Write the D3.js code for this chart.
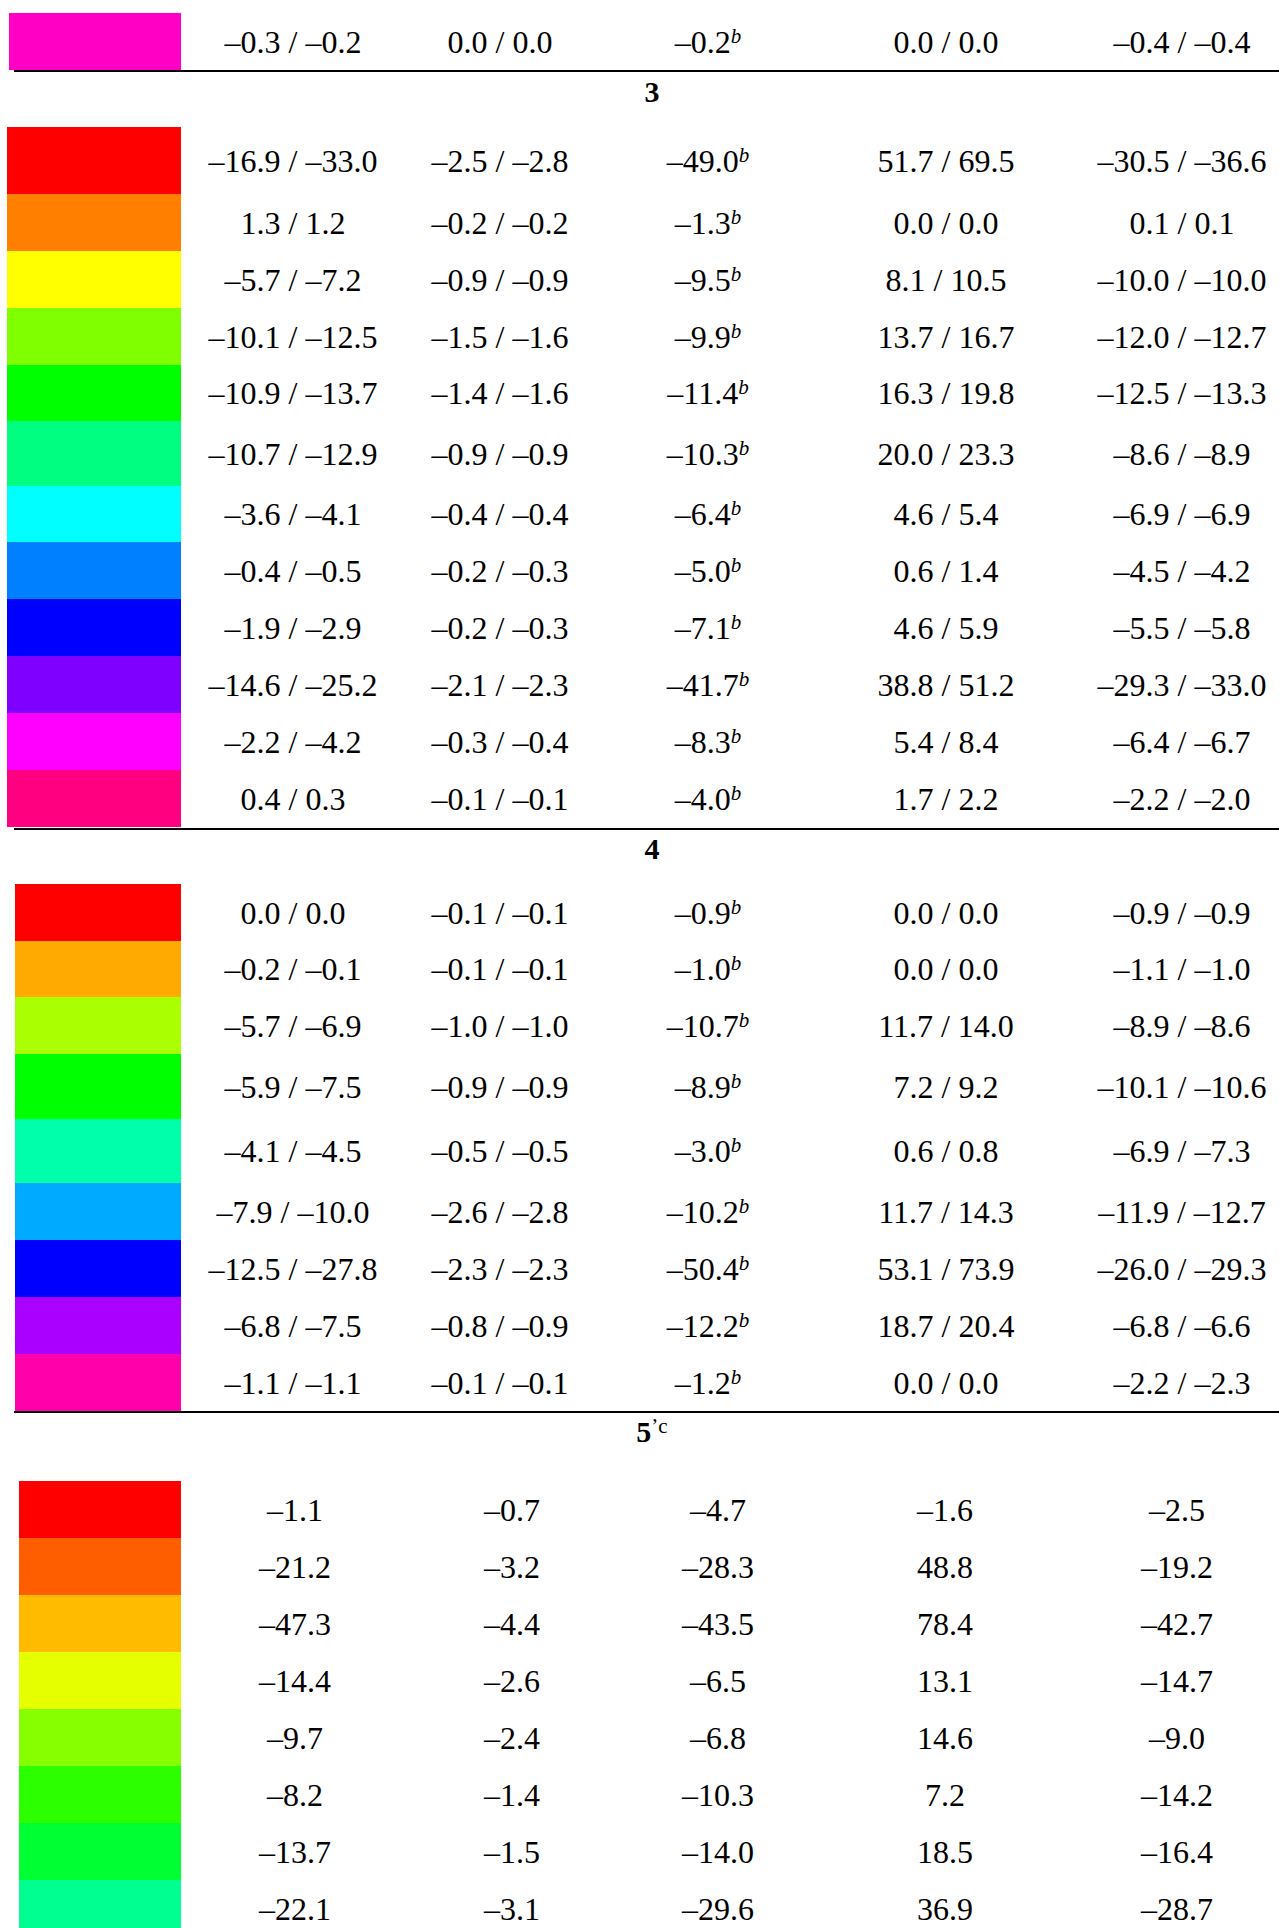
<!DOCTYPE html>
<html>
<head>
<meta charset="utf-8">
<script src="https://cdn.jsdelivr.net/npm/d3@7"></script>
<style>
  body { margin: 0; background: #fff; }
</style>
</head>
<body>
<div id="table"></div>
<script>
// row values: [colA pair, colB pair, colC single (marked b), colD pair, colE pair]
var topColors = ['#ff00c4'];
var topRows = [
    [[-0.3, -0.2], [0.0, 0.0], -0.2, [0.0, 0.0], [-0.4, -0.4]]
];

var sec3Colors = ['#ff0000', '#ff8000', '#ffff00', '#80ff00', '#00ff00', '#00ff80',
                  '#00ffff', '#0080ff', '#0000ff', '#8000ff', '#ff00ff', '#ff0080'];
var sec3Rows = [
    [[-16.9, -33.0], [-2.5, -2.8], -49.0, [51.7, 69.5], [-30.5, -36.6]],
    [[1.3, 1.2], [-0.2, -0.2], -1.3, [0.0, 0.0], [0.1, 0.1]],
    [[-5.7, -7.2], [-0.9, -0.9], -9.5, [8.1, 10.5], [-10.0, -10.0]],
    [[-10.1, -12.5], [-1.5, -1.6], -9.9, [13.7, 16.7], [-12.0, -12.7]],
    [[-10.9, -13.7], [-1.4, -1.6], -11.4, [16.3, 19.8], [-12.5, -13.3]],
    [[-10.7, -12.9], [-0.9, -0.9], -10.3, [20.0, 23.3], [-8.6, -8.9]],
    [[-3.6, -4.1], [-0.4, -0.4], -6.4, [4.6, 5.4], [-6.9, -6.9]],
    [[-0.4, -0.5], [-0.2, -0.3], -5.0, [0.6, 1.4], [-4.5, -4.2]],
    [[-1.9, -2.9], [-0.2, -0.3], -7.1, [4.6, 5.9], [-5.5, -5.8]],
    [[-14.6, -25.2], [-2.1, -2.3], -41.7, [38.8, 51.2], [-29.3, -33.0]],
    [[-2.2, -4.2], [-0.3, -0.4], -8.3, [5.4, 8.4], [-6.4, -6.7]],
    [[0.4, 0.3], [-0.1, -0.1], -4.0, [1.7, 2.2], [-2.2, -2.0]]
];

var sec4Colors = ['#ff0000', '#ffaa00', '#aaff00', '#00ff00', '#00ffaa',
                  '#00aaff', '#0000ff', '#aa00ff', '#ff00aa'];
var sec4Rows = [
    [[0.0, 0.0], [-0.1, -0.1], -0.9, [0.0, 0.0], [-0.9, -0.9]],
    [[-0.2, -0.1], [-0.1, -0.1], -1.0, [0.0, 0.0], [-1.1, -1.0]],
    [[-5.7, -6.9], [-1.0, -1.0], -10.7, [11.7, 14.0], [-8.9, -8.6]],
    [[-5.9, -7.5], [-0.9, -0.9], -8.9, [7.2, 9.2], [-10.1, -10.6]],
    [[-4.1, -4.5], [-0.5, -0.5], -3.0, [0.6, 0.8], [-6.9, -7.3]],
    [[-7.9, -10.0], [-2.6, -2.8], -10.2, [11.7, 14.3], [-11.9, -12.7]],
    [[-12.5, -27.8], [-2.3, -2.3], -50.4, [53.1, 73.9], [-26.0, -29.3]],
    [[-6.8, -7.5], [-0.8, -0.9], -12.2, [18.7, 20.4], [-6.8, -6.6]],
    [[-1.1, -1.1], [-0.1, -0.1], -1.2, [0.0, 0.0], [-2.2, -2.3]]
];

// section 5 has single values and no b mark
var sec5Colors = ['#ff0000', '#ff5e00', '#ffbb00', '#e6ff00', '#88ff00',
                  '#2bff00', '#00ff33', '#00ff91'];
var sec5Rows = [
    [-1.1, -0.7, -4.7, -1.6, -2.5],
    [-21.2, -3.2, -28.3, 48.8, -19.2],
    [-47.3, -4.4, -43.5, 78.4, -42.7],
    [-14.4, -2.6, -6.5, 13.1, -14.7],
    [-9.7, -2.4, -6.8, 14.6, -9.0],
    [-8.2, -1.4, -10.3, 7.2, -14.2],
    [-13.7, -1.5, -14.0, 18.5, -16.4],
    [-22.1, -3.1, -29.6, 36.9, -28.7]
];

var fullWidth = 1279;
var fullHeight = 1928;
var mainFont = '"Liberation Serif", "Times New Roman", serif';
var textSize = 32;
var swatchRight = 181;
var ruleLeft = 14;

var colsMain = [293, 500, 708, 946, 1182];
var colsSingle = [295, 512, 718, 945, 1177];

// layout of each block (positions only)
var sections = [
    { title: null, colors: topColors, rows: topRows, top: 13, heights: [57],
      swatchX: 9, cols: colsMain, markCol: 2, rule: 71 },
    { title: '3', titleY: 102, colors: sec3Colors, rows: sec3Rows, top: 127,
      heights: [67, 57, 57, 57, 56, 65, 56, 57, 57, 57, 57, 57],
      swatchX: 7, cols: colsMain, markCol: 2, rule: 829 },
    { title: '4', titleY: 859, colors: sec4Colors, rows: sec4Rows, top: 884,
      heights: [57, 56, 57, 65, 64, 57, 57, 57, 57],
      swatchX: 15, cols: colsMain, markCol: 2, rule: 1412 },
    { title: '5', titleSup: '\u2019c', titleY: 1442, colors: sec5Colors, rows: sec5Rows, top: 1481,
      heights: [57, 57, 57, 57, 57, 57, 57, 57],
      swatchX: 19, cols: colsSingle, markCol: -1, rule: null }
];

var numFmt = d3.format('.1f');
function fmt(v) {
    return numFmt(v).replace('\u2212', '\u2013');
}
function cellText(v) {
    return Array.isArray(v) ? v.map(fmt).join(' / ') : fmt(v);
}

window.onload = function() {
    render();
};

function render() {
    var svg = d3.select('#table').append('svg')
        .attr('width', fullWidth)
        .attr('height', fullHeight)
        .style('display', 'block');

    svg.append('rect')
        .attr('width', fullWidth)
        .attr('height', fullHeight)
        .style('fill', '#fff');

    sections.forEach(function(sec) {
        drawSection(svg, sec);
    });
}

function drawSection(svg, sec) {
    var n = sec.rows.length;
    var offsets = [0].concat(Array.from(d3.cumsum(sec.heights)));
    var yRow = d3.scaleOrdinal()
        .domain(d3.range(n))
        .range(offsets.slice(0, n).map(function(o) { return sec.top + o; }));
    var hRow = d3.scaleOrdinal()
        .domain(d3.range(n))
        .range(sec.heights);
    var xCol = d3.scaleOrdinal()
        .domain(d3.range(5))
        .range(sec.cols);

    // section heading
    if (sec.title) {
        var head = svg.append('text')
            .attr('x', 652)
            .attr('y', sec.titleY)
            .style('text-anchor', 'middle')
            .style('font-family', mainFont)
            .style('font-weight', 'bold')
            .style('font-size', '30px')
            .style('fill', '#000')
            .text(sec.title);
        if (sec.titleSup) {
            head.append('tspan')
                .attr('dy', -9)
                .style('font-size', '21px')
                .style('font-weight', 'normal')
                .text(sec.titleSup);
        }
    }

    // colour swatches
    svg.append('g').selectAll('rect')
        .data(sec.colors)
        .join('rect')
        .attr('x', sec.swatchX)
        .attr('y', function(d, i) { return yRow(i); })
        .attr('width', swatchRight - sec.swatchX)
        .attr('height', function(d, i) { return hRow(i); })
        .style('fill', function(d) { return d; });

    // cells
    sec.rows.forEach(function(row, i) {
        var cy = yRow(i) + hRow(i) / 2 + 11;
        row.forEach(function(v, j) {
            var t = svg.append('text')
                .attr('x', xCol(j))
                .attr('y', cy)
                .style('text-anchor', 'middle')
                .style('font-family', mainFont)
                .style('font-size', px(textSize))
                .style('fill', '#000')
                .text(cellText(v));
            if (j === sec.markCol) {
                t.append('tspan')
                    .attr('dy', -10)
                    .style('font-size', '21px')
                    .style('font-style', 'italic')
                    .text('b');
            }
        });
    });

    // rule under the block
    if (sec.rule) {
        svg.append('line')
            .attr('x1', ruleLeft)
            .attr('x2', fullWidth)
            .attr('y1', sec.rule)
            .attr('y2', sec.rule)
            .attr('stroke', '#000')
            .attr('stroke-width', 2);
    }
}

function px(v) {
    return v + 'px';
}
</script>
</body>
</html>
